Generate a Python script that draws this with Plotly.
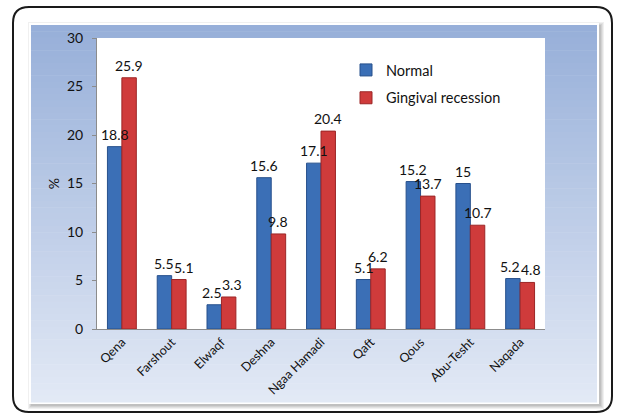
import plotly.graph_objects as go

# Prevalence (%) by district
districts = ["Qena", "Farshout", "Elwaqf", "Deshna", "Ngaa Hamadi",
             "Qaft", "Qous", "Abu-Tesht", "Naqada"]
normal = [18.8, 5.5, 2.5, 15.6, 17.1, 5.1, 15.2, 15, 5.2]
recession = [25.9, 5.1, 3.3, 9.8, 20.4, 6.2, 13.7, 10.7, 4.8]
y_ticks = [0, 5, 10, 15, 20, 25, 30]

W, H = 617, 416
ML, MR, MT, MB = 97, 72, 38, 87
PW, PH = W - ML - MR, H - MT - MB
BARGAP = 0.42

# small horizontal nudges (px) so neighbouring value labels don't collide
label_nudge = {("recession", "Farshout"): 5,
               ("normal", "Elwaqf"): -2, ("recession", "Elwaqf"): 3,
               ("normal", "Naqada"): -3, ("recession", "Naqada"): 4}


def px(x):
    return (x - ML) / PW


def py(y):
    return (H - MB - y) / PH


FONT = "Lato, 'Open Sans', sans-serif"

fig = go.Figure()
fig.add_trace(go.Bar(
    x=districts, y=normal, name="Normal", legendgroup="a",
    marker=dict(color="#3b6fb6", line=dict(color="#27508c", width=1)),
))
fig.add_trace(go.Bar(
    x=districts, y=recession, name="Gingival recession", legendgroup="b",
    marker=dict(color="#cf3b3b", line=dict(color="#9c2626", width=1)),
))

# value labels above each bar, drawn on top of both series
bar_px = PW / len(districts) * (1 - BARGAP) / 2
annotations = []
for key, series, shift in (("normal", normal, -bar_px / 2),
                           ("recession", recession, bar_px / 2)):
    for cat, v in zip(districts, series):
        annotations.append(dict(
            x=cat, y=v, xref="x", yref="y", text=f"{v:g}", showarrow=False,
            xanchor="center", yanchor="bottom",
            xshift=shift + label_nudge.get((key, cat), 0), yshift=2,
            font=dict(size=14, color="#111"),
        ))

shapes = []

# soft drop shadow around the panel
for i, op in enumerate([0.06, 0.06, 0.07, 0.08]):
    d = 5 - i
    shapes.append(dict(
        type="rect", xref="paper", yref="paper", layer="below",
        x0=px(31 - d + 2), x1=px(597 + d + 2), y0=py(402 + d + 2), y1=py(25 - d + 2),
        fillcolor=f"rgba(0,0,0,{op})", line=dict(width=0),
    ))

# white frame of the panel
shapes.append(dict(
    type="rect", xref="paper", yref="paper", layer="below",
    x0=px(29), x1=px(599), y0=py(404), y1=py(23),
    fillcolor="white", line=dict(width=0),
))

# vertical blue gradient panel
top_c = (151, 175, 217)
bot_c = (226, 233, 245)
y_top, y_bot = 25, 402
n = 60
for i in range(n):
    t = i / (n - 1)
    c = tuple(round(top_c[k] + (bot_c[k] - top_c[k]) * t) for k in range(3))
    y0 = y_top + (y_bot - y_top) * i / n
    y1 = y_top + (y_bot - y_top) * (i + 1) / n
    shapes.append(dict(
        type="rect", xref="paper", yref="paper", layer="below",
        x0=px(31), x1=px(597), y0=py(y1 + 0.5), y1=py(y0),
        fillcolor=f"rgb{c}", line=dict(width=0),
    ))

# white plotting area
shapes.append(dict(
    type="rect", xref="paper", yref="paper", layer="below",
    x0=0, x1=1, y0=0, y1=1, fillcolor="white", line=dict(width=0),
))

# rounded outer border
x0, x1, y0, y1, r = 13, 612, 7, 412, 16
path = (
    f"M {px(x0 + r)},{py(y0)} L {px(x1 - r)},{py(y0)} "
    f"Q {px(x1)},{py(y0)} {px(x1)},{py(y0 + r)} "
    f"L {px(x1)},{py(y1 - r)} Q {px(x1)},{py(y1)} {px(x1 - r)},{py(y1)} "
    f"L {px(x0 + r)},{py(y1)} Q {px(x0)},{py(y1)} {px(x0)},{py(y1 - r)} "
    f"L {px(x0)},{py(y0 + r)} Q {px(x0)},{py(y0)} {px(x0 + r)},{py(y0)} Z"
)
shapes.append(dict(
    type="path", xref="paper", yref="paper", layer="below", path=path,
    line=dict(color="#1a1a1a", width=2), fillcolor="rgba(0,0,0,0)",
))

fig.update_layout(
    width=W, height=H,
    margin=dict(l=ML, r=MR, t=MT, b=MB, pad=0),
    paper_bgcolor="white", plot_bgcolor="white",
    font=dict(family=FONT, size=14, color="#111"),
    barmode="group", bargap=BARGAP, bargroupgap=0.0,
    shapes=shapes,
    annotations=annotations,
    showlegend=True,
    legend=dict(
        x=px(346), y=py(54), xanchor="left", yanchor="top",
        bgcolor="rgba(0,0,0,0)", font=dict(size=14.5, color="#111"),
        tracegroupgap=6, itemwidth=30,
    ),
)
fig.update_xaxes(
    showline=True, linecolor="#8c8c8c", linewidth=1,
    tickangle=-45, tickfont=dict(size=12.5), ticks="", showgrid=False,
)
fig.update_yaxes(
    range=[0, 30], tickvals=y_ticks, showgrid=False, zeroline=False,
    showline=True, linecolor="#8c8c8c", linewidth=1,
    ticks="outside", ticklen=4, tickcolor="#8c8c8c",
    ticklabelstandoff=6,
    tickfont=dict(size=14),
    title=dict(text="%", font=dict(size=14), standoff=4),
)

fig.write_html("out.html")
